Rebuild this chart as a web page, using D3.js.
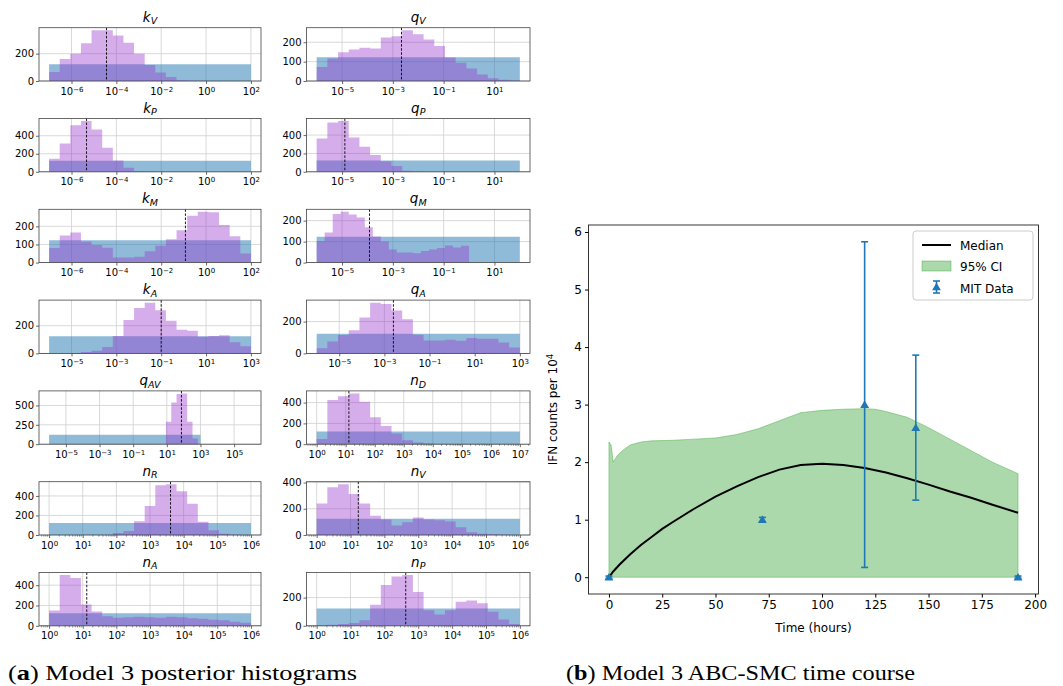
<!DOCTYPE html>
<html>
<head>
<meta charset="utf-8">
<script src="https://cdnjs.cloudflare.com/ajax/libs/d3/7.8.5/d3.min.js"></script>
<style>
  body { margin: 0; background: #fff; }
  svg text { font-family: "DejaVu Sans", sans-serif; fill: #000; }
  .cap { font-family: "Liberation Serif", serif; }
</style>
</head>
<body>
<svg id="fig" width="1063" height="686"></svg>
<script>
// ---------------- Posterior histograms (Model 3) ----------------
// parameter symbols: [base letter, subscript]
const paramSymbols = [["k","V"],["q","V"],["k","P"],["q","P"],["k","M"],["q","M"],
                      ["k","A"],["q","A"],["q","AV"],["n","D"],["n","R"],["n","V"],["n","A"],["n","P"]];
// prior ranges, log10 units
const priorLog10Lo = [-7, -6, -7, -6, -7, -6, -6, -6, -6, 0, 0, 0, 0, 0];
const priorLog10Hi = [ 2,  2,  2,  2,  2,  2,  3,  3,  3, 7, 6, 6, 6, 6];
// prior sample counts per bin (19 bins, log-uniform)
const priorCounts = [123,123,123,123,123,123,123,123,123,123,123,123,123,123,123,123,123,123,123];
// posterior histogram ranges, log10 units
const postLog10Lo = [-7, -6, -7, -6, -7, -6, -6, -6, 0, 0, 0, 0, 0, 0];
const postLog10Hi = [ 2,  2,  2,  2,  2,  0,  3,  3, 6, 7, 6, 6, 6, 6];
// posterior sample counts per bin
const postKV  = [66,161,200,276,371,371,332,280,200,117,63,29,5,2,1,0,0,0,0];
const postQV  = [72,116,149,162,171,168,224,231,262,241,214,181,121,94,65,34,14,7,2];
const postKP  = [144,315,515,563,470,267,125,44,8,3,1,0,0,0,0,0,0,0,0];
const postQP  = [364,538,553,375,273,182,116,62,11,3,0,0,0,0,0,0,0,0,0];
const postKM  = [80,150,166,116,97,82,28,28,32,62,93,129,179,258,280,278,207,146,50];
const postQM  = [103,144,232,242,229,215,168,125,100,63,48,48,45,55,62,70,82,72,80];
const postKA  = [0,0,3,10,19,46,125,241,328,366,311,236,171,164,120,125,130,80,51];
const postQA  = [33,75,115,146,225,319,310,269,215,117,81,81,85,79,96,92,92,69,37];
const postQAV = [0,0,0,289,539,647,655,289,73,0,0,0,0,0,0,0,0,0,0];
const postND  = [49,426,462,488,407,260,176,104,39,16,7,3,2,1,3,4,2,1,0];
const postNR  = [0,0,0,0,0,0,20,41,140,297,509,520,448,321,137,48,14,3,0];
const postNV  = [241,364,387,313,241,146,118,72,97,133,118,113,103,59,21,10,5,2,0];
const postNA  = [150,500,470,210,140,95,80,85,90,85,80,90,85,75,70,60,55,40,30];
const postNP  = [5,8,12,20,40,150,290,350,360,240,110,80,110,170,180,160,100,45,12];
// posterior medians, log10 units
const posteriorMedianLog10 = [-4.44, -2.66, -5.33, -4.89, -0.92, -3.92, -1.0, -2.6, 1.87, 1.11, 3.61, 1.23, 1.12, 2.63];
// tick values
const xTickExponents = [[-6,-4,-2,0,2],[-5,-3,-1,1],[-6,-4,-2,0,2],[-5,-3,-1,1],[-6,-4,-2,0,2],[-5,-3,-1,1],
                        [-5,-3,-1,1,3],[-5,-3,-1,1,3],[-5,-3,-1,1,3,5],[0,1,2,3,4,5,6,7],
                        [0,1,2,3,4,5,6],[0,1,2,3,4,5,6],[0,1,2,3,4,5,6],[0,1,2,3,4,5,6]];
const yTickValues = [[0,200],[0,100,200],[0,200,400],[0,200,400],[0,100,200],[0,100,200],
                     [0,200],[0,200],[0,250,500],[0,200,400],[0,200,400],[0,200,400],[0,200,400],[0,200]];
const postCounts = [postKV, postQV, postKP, postQP, postKM, postQM, postKA, postQA, postQAV,
                    postND, postNR, postNV, postNA, postNP];

// ---------------- ABC-SMC time course ----------------
const medianTime = [0,2,5,10,15,20,25,30,40,50,60,70,80,90,100,110,120,130,140,150,160,170,180,192];
const medianIFN  = [0,0.1,0.22,0.40,0.56,0.70,0.84,0.96,1.19,1.40,1.58,1.74,1.87,1.95,1.97,1.95,1.90,1.82,1.72,1.61,1.49,1.38,1.26,1.12];
const ciTime  = [0,1,2,4,7,10,15,20,30,40,50,60,70,80,90,100,110,120,125,130,140,150,160,170,180,192];
const ciUpper = [2.35,2.3,2.0,2.12,2.22,2.3,2.35,2.37,2.38,2.4,2.42,2.48,2.58,2.72,2.86,2.9,2.92,2.93,2.92,2.88,2.78,2.6,2.4,2.2,2.0,1.8];
const ciLower = [0,0,0,0,0,0,0,0,0,0,0,0,0,0,0,0,0,0,0,0,0,0,0,0,0,0];
const mitTime  = [0, 72, 120, 144, 192];
const mitValue = [0, 1.0, 3.0, 2.6, 0];
const mitError = [0.02, 0.04, 2.83, 1.26, 0.02];
const timeTicks = [0,25,50,75,100,125,150,175,200];
const ifnTicks = [0,1,2,3,4,5,6];

const svg = d3.select("#fig");
const fmtExp = e => (e < 0 ? "\u2212" + Math.abs(e) : String(e));
const C_PRIOR = "#1f77b4", C_POST = "darkorchid", C_CI = "#2ca02c";

// ---------- histogram grid ----------
const colX = [[39, 261], [306.5, 530]];
const rowTop0 = 27.7, rowStep = 90.8, axH = 53.3;

function stepPath(x, y, lo, hi, counts) {
  const n = counts.length, w = (hi - lo) / n;
  const edge = k => x(Math.pow(10, lo + k * w));
  let d = `M${edge(0)},${y(0)}`;
  counts.forEach((c, k) => { d += `L${edge(k)},${y(c)}L${edge(k + 1)},${y(c)}`; });
  return d + `L${edge(n)},${y(0)}Z`;
}

paramSymbols.forEach((sym, i) => {
  const col = i % 2, row = Math.floor(i / 2);
  const [x0, x1] = colX[col];
  const yTop = rowTop0 + row * rowStep, yBot = yTop + axH;
  const lo = Math.min(priorLog10Lo[i], postLog10Lo[i]);
  const hi = Math.max(priorLog10Hi[i], postLog10Hi[i]);
  const m = 0.05 * (hi - lo);
  const x = d3.scaleLog().domain([Math.pow(10, lo - m), Math.pow(10, hi + m)]).range([x0, x1]);
  const ymax = d3.max(priorCounts.concat(postCounts[i])) * 1.05;
  const y = d3.scaleLinear().domain([0, ymax]).range([yBot, yTop]);
  const g = svg.append("g");
  const clipId = "clip" + i;
  svg.append("clipPath").attr("id", clipId).append("rect")
    .attr("x", x0).attr("y", yTop).attr("width", x1 - x0).attr("height", axH);

  const xt = xTickExponents[i].map(e => Math.pow(10, e));
  // grid
  g.selectAll(".vg").data(xt).join("line")
    .attr("x1", d => x(d)).attr("x2", d => x(d)).attr("y1", yTop).attr("y2", yBot)
    .attr("stroke", "#cfcfcf").attr("stroke-width", 0.8);
  g.selectAll(".hg").data(yTickValues[i]).join("line")
    .attr("x1", x0).attr("x2", x1).attr("y1", d => y(d)).attr("y2", d => y(d))
    .attr("stroke", "#cfcfcf").attr("stroke-width", 0.8);

  const bars = g.append("g").attr("clip-path", `url(#${clipId})`);
  bars.append("path").attr("d", stepPath(x, y, priorLog10Lo[i], priorLog10Hi[i], priorCounts))
    .attr("fill", C_PRIOR).attr("fill-opacity", 0.5);
  bars.append("path").attr("d", stepPath(x, y, postLog10Lo[i], postLog10Hi[i], postCounts[i]))
    .attr("fill", C_POST).attr("fill-opacity", 0.4);
  const mx = x(Math.pow(10, posteriorMedianLog10[i]));
  bars.append("line").attr("x1", mx).attr("x2", mx).attr("y1", yTop).attr("y2", yBot)
    .attr("stroke", "#000").attr("stroke-width", 0.9).attr("stroke-dasharray", "2.5,1.6");

  // frame
  g.append("rect").attr("x", x0).attr("y", yTop).attr("width", x1 - x0).attr("height", axH)
    .attr("fill", "none").attr("stroke", "#444").attr("stroke-width", 0.8);

  // x axis
  const xa = g.append("g").attr("transform", `translate(0,${yBot})`)
    .call(d3.axisBottom(x).tickValues(xt).tickSize(3).tickPadding(2).tickFormat(() => ""));
  xa.select(".domain").remove();
  xa.selectAll(".tick line").attr("stroke", "#444").attr("stroke-width", 0.8);
  xa.selectAll(".tick text").each(function (d) {
    const t = d3.select(this).attr("font-size", 10).attr("y", 4).attr("dy", "0.95em");
    t.append("tspan").text("10");
    t.append("tspan").attr("dy", "-0.42em").attr("font-size", 7).text(fmtExp(Math.round(Math.log10(d))));
  });
  // minor ticks where every decade is labelled
  const steps = xTickExponents[i][1] - xTickExponents[i][0];
  if (steps === 1) {
    const minor = [];
    const d0 = x.domain();
    for (let k = Math.floor(lo - m); k <= Math.ceil(hi + m); k++)
      for (let j = 2; j <= 9; j++) {
        const v = j * Math.pow(10, k);
        if (v > d0[0] && v < d0[1]) minor.push(v);
      }
    g.selectAll(".mn").data(minor).join("line")
      .attr("x1", d => x(d)).attr("x2", d => x(d)).attr("y1", yBot).attr("y2", yBot + 1.6)
      .attr("stroke", "#444").attr("stroke-width", 0.6);
  }
  // y axis
  const ya = g.append("g").attr("transform", `translate(${x0},0)`)
    .call(d3.axisLeft(y).tickValues(yTickValues[i]).tickSize(3).tickPadding(2));
  ya.select(".domain").remove();
  ya.selectAll(".tick line").attr("stroke", "#444").attr("stroke-width", 0.8);
  ya.selectAll(".tick text").attr("font-size", 10).attr("font-family", "DejaVu Sans");

  // title
  const tt = g.append("text").attr("x", (x0 + x1) / 2).attr("y", yTop - 6)
    .attr("text-anchor", "middle").attr("font-size", 13.5).attr("font-style", "italic");
  tt.append("tspan").text(sym[0]);
  tt.append("tspan").attr("dy", "0.28em").attr("font-size", 9.5).text(sym[1]);
});

// ---------- time course ----------
const ax = { l: 588.5, r: 1038.5, t: 225, b: 594 };
const xs = d3.scaleLinear().domain([-9.6, 201.6]).range([ax.l, ax.r]);
const ys = d3.scaleLinear().domain([-0.2915, 6.1215]).range([ax.b, ax.t]);
const tg = svg.append("g");

const ciData = ciTime.map((t, k) => ({ t, lo: ciLower[k], hi: ciUpper[k] }));
tg.append("path").datum(ciData)
  .attr("d", d3.area().x(d => xs(d.t)).y0(d => ys(d.lo)).y1(d => ys(d.hi)))
  .attr("fill", C_CI).attr("fill-opacity", 0.4)
  .attr("stroke", C_CI).attr("stroke-opacity", 0.4).attr("stroke-width", 1);

tg.append("path").datum(medianTime.map((t, k) => [t, medianIFN[k]]))
  .attr("d", d3.line().x(d => xs(d[0])).y(d => ys(d[1])))
  .attr("fill", "none").attr("stroke", "#000").attr("stroke-width", 2);

const eb = tg.append("g");
mitTime.forEach((t, k) => {
  const cx = xs(t), yl = ys(mitValue[k] - mitError[k]), yh = ys(mitValue[k] + mitError[k]);
  eb.append("line").attr("x1", cx).attr("x2", cx).attr("y1", yl).attr("y2", yh)
    .attr("stroke", C_PRIOR).attr("stroke-width", 1.6);
  [yl, yh].forEach(yy => eb.append("line").attr("x1", cx - 3.5).attr("x2", cx + 3.5)
    .attr("y1", yy).attr("y2", yy).attr("stroke", C_PRIOR).attr("stroke-width", 1.6));
  eb.append("path").attr("d", d3.symbol(d3.symbolTriangle, 34)())
    .attr("transform", `translate(${cx},${ys(mitValue[k]) + 0.8})`).attr("fill", C_PRIOR);
});

tg.append("rect").attr("x", ax.l).attr("y", ax.t).attr("width", ax.r - ax.l).attr("height", ax.b - ax.t)
  .attr("fill", "none").attr("stroke", "#222").attr("stroke-width", 0.9);

const xax = tg.append("g").attr("transform", `translate(0,${ax.b})`)
  .call(d3.axisBottom(xs).tickValues(timeTicks).tickSize(3.5).tickPadding(3).tickFormat(d3.format("d")));
xax.select(".domain").remove();
xax.selectAll(".tick text").attr("font-size", 12).attr("font-family", "DejaVu Sans");
const yax = tg.append("g").attr("transform", `translate(${ax.l},0)`)
  .call(d3.axisLeft(ys).tickValues(ifnTicks).tickSize(3.5).tickPadding(3).tickFormat(d3.format("d")));
yax.select(".domain").remove();
yax.selectAll(".tick text").attr("font-size", 12).attr("font-family", "DejaVu Sans");

tg.append("text").attr("x", (ax.l + ax.r) / 2).attr("y", 632).attr("text-anchor", "middle")
  .attr("font-size", 12).text("Time (hours)");
const yl = tg.append("text").attr("transform", `translate(557,${(ax.t + ax.b) / 2}) rotate(-90)`)
  .attr("text-anchor", "middle").attr("font-size", 12);
yl.append("tspan").text("IFN counts per 10");
yl.append("tspan").attr("dy", "-0.45em").attr("font-size", 8.5).text("4");

// legend
const lg = tg.append("g").attr("transform", "translate(913,231)");
lg.append("rect").attr("width", 120).attr("height", 69).attr("rx", 3)
  .attr("fill", "#fff").attr("fill-opacity", 0.8).attr("stroke", "#ccc");
lg.append("line").attr("x1", 9).attr("x2", 38).attr("y1", 14).attr("y2", 14)
  .attr("stroke", "#000").attr("stroke-width", 2);
lg.append("rect").attr("x", 9).attr("y", 30).attr("width", 29).attr("height", 10)
  .attr("fill", C_CI).attr("fill-opacity", 0.4).attr("stroke", C_CI).attr("stroke-opacity", 0.4);
lg.append("line").attr("x1", 23.5).attr("x2", 23.5).attr("y1", 50).attr("y2", 62)
  .attr("stroke", C_PRIOR).attr("stroke-width", 1.6);
[50, 62].forEach(yy => lg.append("line").attr("x1", 20).attr("x2", 27).attr("y1", yy).attr("y2", yy)
  .attr("stroke", C_PRIOR).attr("stroke-width", 1.6));
lg.append("path").attr("d", d3.symbol(d3.symbolTriangle, 34)()).attr("transform", "translate(23.5,56.8)")
  .attr("fill", C_PRIOR);
["Median", "95% CI", "MIT Data"].forEach((s, k) =>
  lg.append("text").attr("x", 47).attr("y", 18.5 + k * 21.5).attr("font-size", 12).text(s));

// captions
const ca = svg.append("text").attr("class", "cap").attr("x", 8).attr("y", 680).attr("font-size", 22)
  .attr("textLength", 349).attr("lengthAdjust", "spacingAndGlyphs");
ca.append("tspan").text("(");
ca.append("tspan").attr("font-weight", "bold").text("a");
ca.append("tspan").text(") Model 3 posterior histograms");
const cb = svg.append("text").attr("class", "cap").attr("x", 566).attr("y", 680).attr("font-size", 22)
  .attr("textLength", 349).attr("lengthAdjust", "spacingAndGlyphs");
cb.append("tspan").text("(");
cb.append("tspan").attr("font-weight", "bold").text("b");
cb.append("tspan").text(") Model 3 ABC-SMC time course");
</script>
</body>
</html>
